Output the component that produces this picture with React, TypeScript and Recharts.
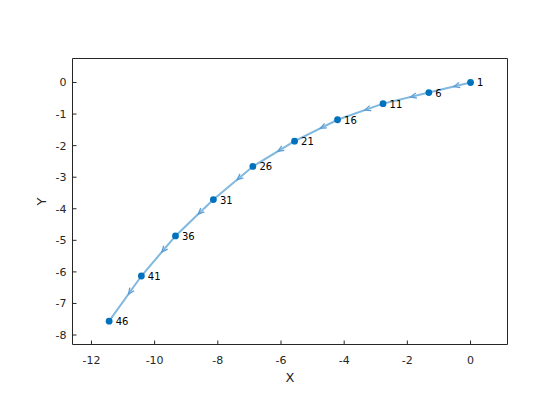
import { ComposedChart, Line, XAxis, YAxis } from "recharts";

// every 5th sample of the path, as labelled in the plot
const sampleIds = [1, 6, 11, 16, 21, 26, 31, 36, 41, 46];
const xValues = [0, -1.32, -2.77, -4.21, -5.57, -6.89, -8.14, -9.34, -10.42, -11.44];
const yValues = [0, -0.32, -0.67, -1.18, -1.86, -2.66, -3.71, -4.86, -6.13, -7.56];

const xTicks = [-12, -10, -8, -6, -4, -2, 0];
const yTicks = [-8, -7, -6, -5, -4, -3, -2, -1, 0];

const rows = sampleIds.map((id, i) => ({ id, x: xValues[i], y: yValues[i] }));

const FONT = "DejaVu Sans, Liberation Sans, sans-serif";
const AXIS = "#262626";
const LINE = "#80B8DE";
const MARKER = "#0072BD";

const renderDot = (props: any) => {
  const { cx, cy, index, points, payload } = props;
  const next = points ? points[index + 1] : null;
  let arrow = null;
  if (next) {
    const dx = next.x - cx;
    const dy = next.y - cy;
    const len = Math.hypot(dx, dy) || 1;
    const ux = dx / len;
    const uy = dy / len;
    const tx = cx + dx * 0.4;
    const ty = cy + dy * 0.4;
    const bx = tx - ux * 6;
    const by = ty - uy * 6;
    const hw = 2.6;
    arrow = (
      <polyline
        points={`${bx - uy * hw},${by + ux * hw} ${tx},${ty} ${bx + uy * hw},${by - ux * hw}`}
        fill="none"
        stroke="#5E9ED6"
        strokeWidth={1.3}
      />
    );
  }
  return (
    <g key={`dot-${index}`}>
      {arrow}
      <circle cx={cx} cy={cy} r={3.4} fill={MARKER} />
      <text x={cx + 6.5} y={cy + 4} fontSize={10} fontFamily={FONT} fill="#000">
        {payload.id}
      </text>
    </g>
  );
};

const tickStyle = { fill: AXIS, fontSize: 11, fontFamily: FONT };
const tickLine = { stroke: AXIS };

export default function App() {
  return (
    <div style={{ position: "absolute", left: 0, top: 0, background: "#fff" }}>
      <ComposedChart
        width={560}
        height={420}
        data={rows}
        margin={{ top: 57.5, right: 51.5, bottom: 30.5, left: 32.5 }}
        style={{ fontFamily: FONT }}
      >
        <XAxis
          dataKey="x"
          type="number"
          domain={[-12.6, 1.17]}
          allowDataOverflow
          ticks={xTicks}
          height={45}
          tickSize={-4}
          tickMargin={15.5}
          tick={tickStyle}
          tickLine={tickLine}
          axisLine={{ stroke: AXIS }}
          label={{ value: "X", position: "insideBottom", offset: 7.5, fill: AXIS, fontSize: 13, fontFamily: FONT }}
        />
        <XAxis
          xAxisId="top"
          dataKey="x"
          orientation="top"
          type="number"
          domain={[-12.6, 1.17]}
          allowDataOverflow
          ticks={xTicks}
          height={1}
          tickSize={-4}
          tick={false}
          tickLine={tickLine}
          axisLine={{ stroke: AXIS }}
        />
        <YAxis
          type="number"
          domain={[-8.3, 0.76]}
          allowDataOverflow
          ticks={yTicks}
          width={40}
          tickSize={-4}
          tickMargin={10}
          tick={tickStyle}
          tickLine={tickLine}
          axisLine={{ stroke: AXIS }}
          label={{
            value: "Y",
            angle: -90,
            position: "insideLeft",
            offset: 8.5,
            fill: AXIS,
            fontSize: 13,
            fontFamily: FONT,
            style: { textAnchor: "middle" },
          }}
        />
        <YAxis
          yAxisId="right"
          orientation="right"
          type="number"
          domain={[-8.3, 0.76]}
          allowDataOverflow
          ticks={yTicks}
          width={1}
          tickSize={-4}
          tick={false}
          tickLine={tickLine}
          axisLine={{ stroke: AXIS }}
        />
        {/* invisible copy that keeps the box axes on top and right alive */}
        <Line
          xAxisId="top"
          yAxisId="right"
          dataKey="y"
          stroke="none"
          dot={false}
          activeDot={false}
          legendType="none"
          isAnimationActive={false}
        />
        <Line
          dataKey="y"
          type="linear"
          stroke={LINE}
          strokeWidth={2}
          dot={renderDot}
          activeDot={false}
          isAnimationActive={false}
        />
      </ComposedChart>
    </div>
  );
}
